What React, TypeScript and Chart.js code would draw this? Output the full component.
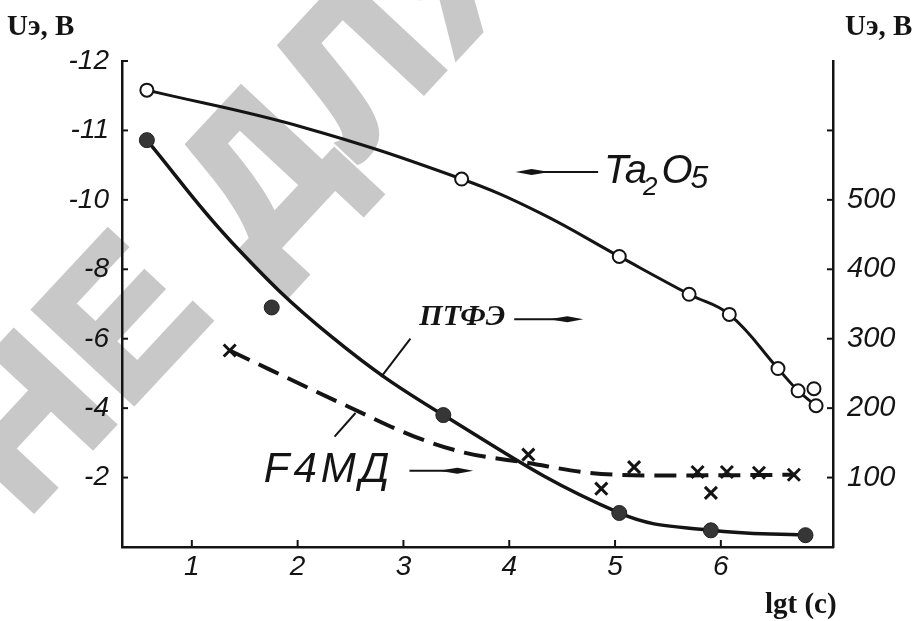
import { useEffect, useRef } from "react";
import { Chart, registerables } from "chart.js";

Chart.register(...registerables);

// ---- axes ----
const xTicks = [1, 2, 3, 4, 5, 6];
const xTickLabels = ["1", "2", "3", "4", "5", "6"];
// left axis: equally spaced ticks with uneven labels (2 position units per tick)
const leftTicks = [2, 4, 6, 8, 10, 12, 14];
const leftTickLabels = ["-2", "-4", "-6", "-8", "-10", "-11", "-12"];
const rightTicks = [100, 200, 300, 400, 500, 600];
const rightTickLabels = ["100", "200", "300", "400", "500", ""];

// ---- Ta2O5 (left axis) ----
const ta2o5X = [0.575, 3.55, 5.04, 5.7, 6.08, 6.54, 6.73, 6.88, 6.9];
const ta2o5Y = [13.16, 10.6, 8.37, 7.28, 6.7, 5.14, 4.5, 4.56, 4.07];
const ta2o5CurveX = [0.575, 2.04, 3.55, 4.28, 5.04, 5.7, 6.08, 6.54, 6.73, 6.9];
const ta2o5CurveY = [13.16, 12.1, 10.6, 9.64, 8.37, 7.28, 6.7, 5.14, 4.5, 4.07];

// ---- ПТФЭ (right axis) ----
const ptfeX = [0.575, 1.755, 3.377, 5.04, 5.906, 6.8];
const ptfeY = [586, 345, 190, 49, 24, 17];
const ptfeCurveX = [0.575, 1.377, 2.32, 3.377, 5.04, 5.906, 6.8];
const ptfeCurveY = [586, 439, 303, 190, 49, 24, 17];

// ---- F4МД (right axis) ----
const f4mdX = [1.358, 4.18, 4.87, 5.18, 5.78, 5.906, 6.057, 6.36, 6.69];
const f4mdY = [283, 133, 84, 115, 108, 78, 108, 107, 104];
const f4mdCurveX = [1.358, 2.481, 3.104, 3.575, 4.179, 4.75, 5.5, 6.69];
const f4mdCurveY = [283, 202, 159, 136, 121, 107, 103, 104];

const INK = "#141414";

function zip(xs: number[], ys: number[]) {
  return xs.map((x, i) => ({ x, y: ys[i] }));
}

export default function App() {
  const ref = useRef<HTMLCanvasElement>(null);

  useEffect(() => {
    const canvas = ref.current!;

    const watermark = {
      id: "watermark",
      beforeDraw(chart: any) {
        const ctx = chart.ctx;
        ctx.save();
        ctx.fillStyle = "#c8c8c8";
        ctx.strokeStyle = "#c8c8c8";
        ctx.lineWidth = 8;
        ctx.lineJoin = "miter";
        ctx.font = 'bold 195px "Liberation Sans"';
        (ctx as any).letterSpacing = "6px";
        ctx.textBaseline = "alphabetic";
        ctx.translate(25, 518);
        ctx.rotate((-47 * Math.PI) / 180);
        ctx.fillText("НЕ ДЛЯ ПЕЧАТИ", 0, 0);
        ctx.strokeText("НЕ ДЛЯ ПЕЧАТИ", 0, 0);
        ctx.restore();
      },
    };

    const arrow = (ctx: any, x1: number, x2: number, y: number) => {
      // tail x1, head x2
      const dir = Math.sign(x2 - x1);
      ctx.beginPath();
      ctx.moveTo(x1, y);
      ctx.lineTo(x2 - dir * 20, y);
      ctx.lineWidth = 2;
      ctx.stroke();
      ctx.beginPath();
      ctx.moveTo(x2 - dir * 34, y);
      ctx.lineTo(x2 - dir * 16, y - 3);
      ctx.lineTo(x2, y);
      ctx.lineTo(x2 - dir * 16, y + 3);
      ctx.closePath();
      ctx.fill();
    };

    const decor = {
      id: "decor",
      afterDraw(chart: any) {
        const ctx = chart.ctx;
        const { x, yL, yR } = chart.scales;
        const area = chart.chartArea;
        ctx.save();
        ctx.strokeStyle = INK;
        ctx.fillStyle = INK;
        ctx.lineWidth = 2;
        ctx.lineCap = "butt";
        // inward tick marks
        xTicks.forEach((v) => {
          const px = x.getPixelForValue(v);
          ctx.beginPath();
          ctx.moveTo(px, area.bottom);
          ctx.lineTo(px, area.bottom - 7);
          ctx.stroke();
        });
        leftTicks.forEach((v) => {
          const py = yL.getPixelForValue(v);
          ctx.beginPath();
          ctx.moveTo(area.left, py);
          ctx.lineTo(area.left + 6, py);
          ctx.stroke();
        });
        rightTicks.forEach((v) => {
          const py = yR.getPixelForValue(v);
          ctx.beginPath();
          ctx.moveTo(area.right, py);
          ctx.lineTo(area.right - 6, py);
          ctx.stroke();
        });

        // axis titles
        ctx.font = 'bold 29px "Liberation Serif"';
        ctx.textBaseline = "alphabetic";
        ctx.textAlign = "left";
        ctx.fillText("Uэ, В", 7, 35);
        ctx.fillText("Uэ, В", 845, 35);
        ctx.fillText("lgt (с)", 765, 613);

        const X = (v: number) => x.getPixelForValue(v);
        const R = (v: number) => yR.getPixelForValue(v);

        // Ta2O5 label
        let tx = X(4.896);
        const ty = R(524);
        ctx.font = 'italic 40px "Liberation Sans"';
        ctx.fillText("Ta", tx, ty);
        tx += ctx.measureText("Ta").width - 4;
        ctx.font = 'italic 26px "Liberation Sans"';
        ctx.fillText("2", tx, ty + 12);
        tx += ctx.measureText("2").width + 4;
        ctx.font = 'italic 40px "Liberation Sans"';
        ctx.fillText("O", tx, ty);
        tx += ctx.measureText("O").width - 2;
        ctx.font = 'italic 32px "Liberation Sans"';
        ctx.fillText("5", tx, ty + 5);
        arrow(ctx, X(4.84), X(4.06), R(540));

        // ПТФЭ label
        ctx.font = 'bold italic 30px "Liberation Serif"';
        ctx.fillText("ПТФЭ", X(3.15), R(320));
        arrow(ctx, X(4.047), X(4.7), R(328));
        ctx.lineWidth = 2;
        ctx.beginPath();
        ctx.moveTo(X(3.066), R(300));
        ctx.lineTo(X(2.79), R(245));
        ctx.stroke();

        // F4МД label
        ctx.font = 'italic 42px "Liberation Sans"';
        (ctx as any).letterSpacing = "4px";
        ctx.fillText("F4МД", X(1.68), R(94));
        (ctx as any).letterSpacing = "0px";
        arrow(ctx, X(3.057), X(3.66), R(110));
        ctx.lineWidth = 2;
        ctx.beginPath();
        ctx.moveTo(X(2.547), R(193));
        ctx.lineTo(X(2.349), R(159));
        ctx.stroke();

        ctx.restore();
      },
    };

    const tickFont = { family: "Liberation Sans", size: 28, style: "italic" as const };

    const chart = new Chart(canvas, {
      type: "scatter",
      data: {
        datasets: [
          {
            type: "line",
            label: "Ta2O5 curve",
            data: zip(ta2o5CurveX, ta2o5CurveY),
            yAxisID: "yL",
            borderColor: INK,
            borderWidth: 3,
            pointRadius: 0,
            tension: 0.4,
            fill: false,
            order: 2,
          },
          {
            type: "scatter",
            label: "Ta2O5",
            data: zip(ta2o5X, ta2o5Y),
            yAxisID: "yL",
            pointStyle: "circle",
            pointRadius: 6.5,
            backgroundColor: "#ffffff",
            borderColor: INK,
            borderWidth: 2,
            order: 0,
          },
          {
            type: "line",
            label: "ПТФЭ curve",
            data: zip(ptfeCurveX, ptfeCurveY),
            yAxisID: "yR",
            borderColor: INK,
            borderWidth: 3.5,
            pointRadius: 0,
            tension: 0.4,
            fill: false,
            order: 2,
          },
          {
            type: "scatter",
            label: "ПТФЭ",
            data: zip(ptfeX, ptfeY),
            yAxisID: "yR",
            pointStyle: "circle",
            pointRadius: 7.5,
            backgroundColor: "#363636",
            borderColor: "#202020",
            borderWidth: 1,
            order: 0,
          },
          {
            type: "line",
            label: "F4МД curve",
            data: zip(f4mdCurveX, f4mdCurveY),
            yAxisID: "yR",
            borderColor: INK,
            borderWidth: 4,
            borderDash: [22, 10],
            pointRadius: 0,
            cubicInterpolationMode: "monotone",
            fill: false,
            order: 2,
          },
          {
            type: "scatter",
            label: "F4МД",
            data: zip(f4mdX, f4mdY),
            yAxisID: "yR",
            pointStyle: "crossRot",
            pointRadius: 8.5,
            borderColor: INK,
            borderWidth: 3,
            order: 0,
          },
        ],
      },
      options: {
        responsive: true,
        maintainAspectRatio: false,
        animation: false,
        events: [],
        layout: { padding: { top: 61, left: 0, right: 0, bottom: 0 } },
        plugins: {
          legend: { display: false },
          tooltip: { enabled: false },
          title: { display: false },
        },
        scales: {
          x: {
            type: "linear",
            position: "bottom",
            min: 0.34,
            max: 7.06,
            grid: { display: false, drawTicks: false },
            border: { display: true, color: INK, width: 2.5 },
            afterBuildTicks: (s: any) => {
              s.ticks = xTicks.map((v) => ({ value: v }));
            },
            afterFit: (s: any) => {
              s.height = 74;
            },
            ticks: {
              padding: 3,
              color: INK,
              font: tickFont,
              maxRotation: 0,
              autoSkip: false,
              callback: (_v: any, i: number) => xTickLabels[i],
            },
          },
          yL: {
            type: "linear",
            position: "left",
            min: 0,
            max: 14,
            grid: { display: false, drawTicks: false },
            border: { display: true, color: INK, width: 2.5 },
            afterBuildTicks: (s: any) => {
              s.ticks = leftTicks.map((v) => ({ value: v }));
            },
            afterFit: (s: any) => {
              s.width = 122;
            },
            ticks: {
              padding: 13,
              color: INK,
              font: tickFont,
              autoSkip: false,
              callback: (_v: any, i: number) => leftTickLabels[i],
            },
          },
          yR: {
            type: "linear",
            position: "right",
            min: 0,
            max: 700,
            grid: { display: false, drawTicks: false },
            border: { display: true, color: INK, width: 2.5 },
            afterBuildTicks: (s: any) => {
              s.ticks = rightTicks.map((v) => ({ value: v }));
            },
            afterFit: (s: any) => {
              s.width = 82;
            },
            ticks: {
              padding: 14,
              color: INK,
              font: { family: "Liberation Sans", size: 29, style: "italic" as const },
              autoSkip: false,
              callback: (_v: any, i: number) => rightTickLabels[i],
            },
          },
        },
      } as any,
      plugins: [watermark, decor],
    });

    return () => chart.destroy();
  }, []);

  return (
    <div
      style={{
        position: "fixed",
        left: 0,
        top: 0,
        width: 915,
        height: 621,
        background: "#ffffff",
      }}
    >
      <canvas ref={ref} />
    </div>
  );
}
